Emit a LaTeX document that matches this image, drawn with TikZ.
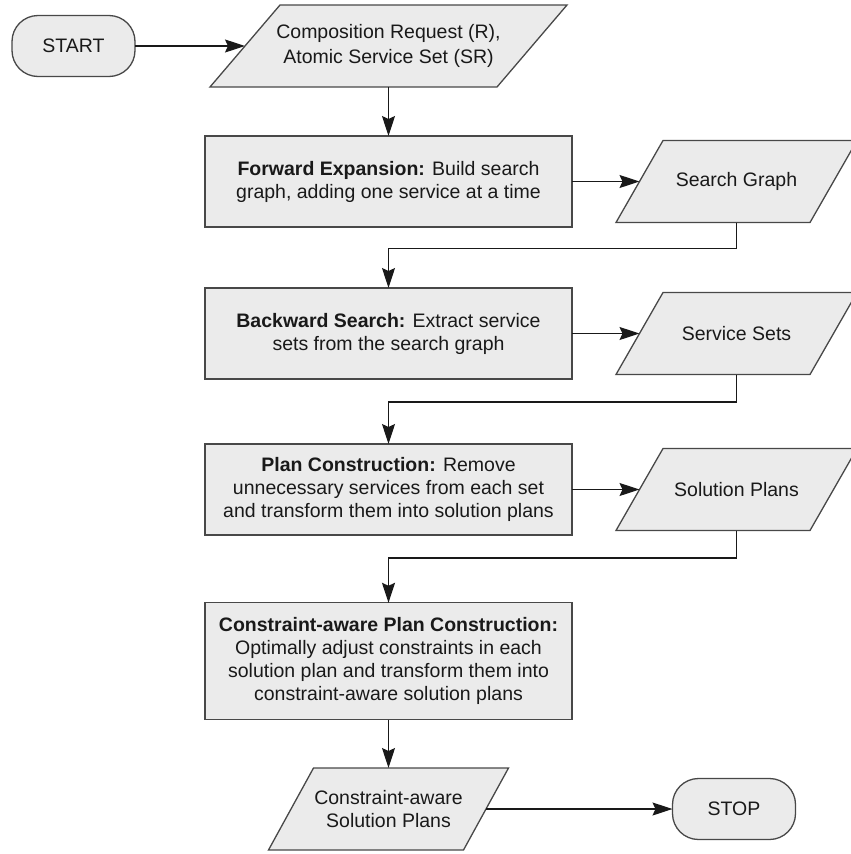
\documentclass[tikz,border=0pt]{standalone}
\usepackage{fontspec}
\setmainfont{Liberation Sans}
\usetikzlibrary{shapes.misc,arrows.meta}
\definecolor{boxfill}{RGB}{235,235,235}
\definecolor{edge}{RGB}{72,72,72}
\definecolor{ink}{RGB}{25,25,25}
\pgfdeclarelayer{bg}
\pgfsetlayers{bg,main}
\tikzset{
  outline/.style={draw=edge, line width=1.3pt, fill=boxfill},
  textstyle/.style={text=ink, align=center, font=\fontsize{19.5}{23}\selectfont,
    inner sep=2pt, outer sep=0pt},
  terminal/.style={outline, textstyle, rectangle, rounded corners=26pt,
    minimum width=123pt, minimum height=61pt},
  process/.style={outline, textstyle, rectangle, minimum width=367pt, minimum height=91pt},
  % data box: the node is the body of the parallelogram at mid height
  iobox/.style={textstyle, rectangle, minimum width=#1, minimum height=82pt},
  flow/.style={draw=ink, line width=1.2pt, -{Stealth[length=20pt,width=13pt,inset=3pt]}}
}
% slanted outline around a data node; #2 is the horizontal lean of the sides
\newcommand\slantframe[2]{%
  \begin{pgfonlayer}{bg}
    \draw[outline, line join=miter]
      ([xshift=-#2/2]#1.south west) -- ([xshift=-#2/2]#1.south east)
      -- ([xshift=#2/2]#1.north east) -- ([xshift=#2/2]#1.north west) -- cycle;
  \end{pgfonlayer}}
\begin{document}
\begin{tikzpicture}[x=1pt,y=-1pt]
\useasboundingbox (0,0) rectangle (851,854);
\begin{scope}
\clip (0,0) rectangle (851,854);

% start and input data
\node[terminal] (start) at (73.5,46) {START};
\node[iobox=287pt, font=\fontsize{19.5}{25}\selectfont] (req) at (388.5,46)
  {Composition Request (R),\\Atomic Service Set (SR)};
\slantframe{req}{70}

% processing steps
\node[process] (fwd) at (388.5,181.5)
  {\textbf{Forward Expansion:} Build search\\graph, adding one service at a time};
\node[process] (bwd) at (388.5,333.5)
  {\textbf{Backward Search:} Extract service\\sets from the search graph};
\node[process] (plan) at (388.5,489.5)
  {\textbf{Plan Construction:} Remove\\unnecessary services from each set\\and transform them into solution plans};
\node[process, minimum height=117pt] (cplan) at (388.5,661.3)
  {\textbf{Constraint-aware Plan Construction:}\\Optimally adjust constraints in each\\solution plan and transform them into\\constraint-aware solution plans};

% intermediate results
\node[iobox=194pt] (graph) at (736.5,181.5) {Search Graph};
\slantframe{graph}{47}
\node[iobox=194pt] (sets) at (736.5,333.5) {Service Sets};
\slantframe{sets}{47}
\node[iobox=194pt] (plans) at (736.5,489.5) {Solution Plans};
\slantframe{plans}{47}

% final output and stop
\node[iobox=195pt] (out) at (388.5,809) {Constraint-aware\\Solution Plans};
\slantframe{out}{45}
\node[terminal] (stop) at (734,809) {STOP};

% connectors
\draw[flow] (start.east) -- (req.west);
\draw[flow] (req.south) -- (fwd.north);
\draw[flow] (fwd.east) -- (graph.west);
\draw[flow] (graph.south) -- ++(0,26) -| (bwd.north);
\draw[flow] (bwd.east) -- (sets.west);
\draw[flow] (sets.south) -- ++(0,27.5) -| (plan.north);
\draw[flow] (plan.east) -- (plans.west);
\draw[flow] (plans.south) -- ++(0,27.5) -| (cplan.north);
\draw[flow] (cplan.south) -- (out.north);
\draw[flow] (out.east) -- (stop.west);
\end{scope}
\end{tikzpicture}
\end{document}
